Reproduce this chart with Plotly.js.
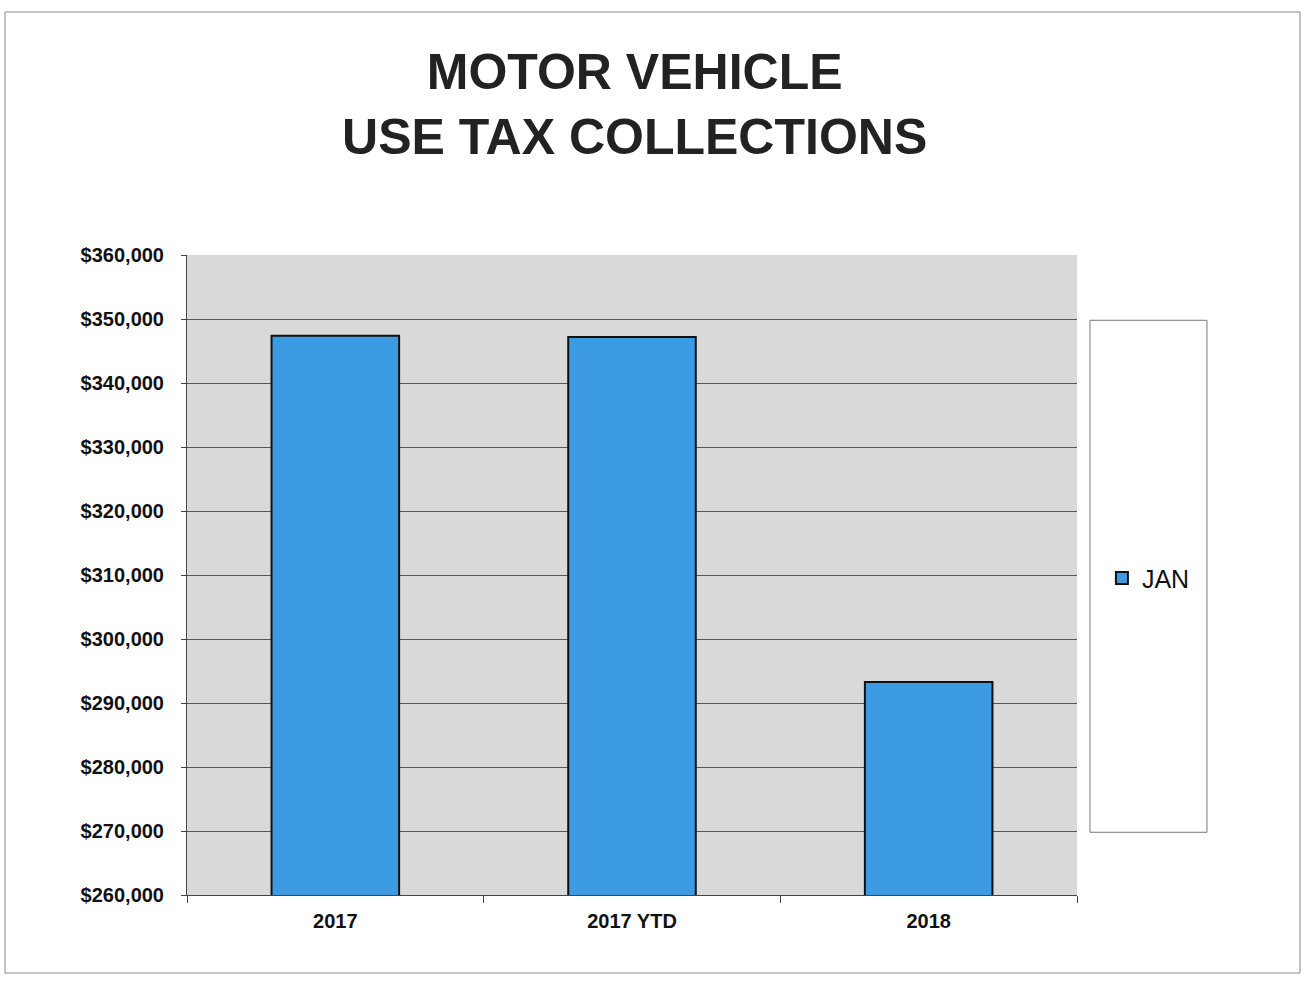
<!DOCTYPE html>
<html>
<head>
<meta charset="utf-8">
<script src="https://cdn.plot.ly/plotly-3.0.1.min.js"></script>
<style>html,body{margin:0;padding:0;background:#fff;}#chart{width:1309px;height:987px;}</style>
</head>
<body>
<div id="chart"></div>
<script>
const categories = ["2017", "2017 YTD", "2018"];
const janValues = [347400, 347200, 293300];
const seriesName = "JAN";
const titleText = "MOTOR VEHICLE<br>USE TAX COLLECTIONS";

const trace = {
  type: "bar",
  x: categories,
  y: janValues,
  name: seriesName,
  width: 0.43,
  marker: {color: "#3d9be3", line: {color: "#111", width: 2}},
  showlegend: true
};

const layout = {
  width: 1309, height: 987,
  margin: {l: 187, r: 232, t: 255, b: 92},
  paper_bgcolor: "#ffffff",
  plot_bgcolor: "#d9d9d9",
  font: {family: "Liberation Sans, Arial, sans-serif", color: "#111"},
  title: {
    text: titleText,
    font: {size: 50, family: "Liberation Sans, Arial, sans-serif", color: "#222", weight: "bold"},
    x: 0.503, xanchor: "center", xref: "paper",
    y: 0.91, yanchor: "middle", yref: "container"
  },
  showlegend: true,
  legend: {
    x: 1.028, xanchor: "left", y: 0.495, yanchor: "middle",
    bgcolor: "rgba(0,0,0,0)", borderwidth: 0,
    font: {size: 25, color: "#111"},
    itemwidth: 30
  },
  xaxis: {
    type: "category",
    showline: true, linecolor: "#444", linewidth: 1,
    ticks: "outside", tickson: "boundaries", ticklen: 7, tickcolor: "#444",
    tickfont: {size: 20, weight: "bold", color: "#111"},
    showgrid: false, zeroline: false,
    ticklabelstandoff: 8
  },
  yaxis: {
    range: [260000, 360000], dtick: 10000, tick0: 260000,
    tickprefix: "$", tickformat: ",",
    showline: true, linecolor: "#444", linewidth: 1,
    ticks: "outside", ticklen: 5, tickcolor: "#444",
    tickfont: {size: 20, weight: "bold", color: "#111"},
    gridcolor: "#555", gridwidth: 1, zeroline: false,
    ticklabelstandoff: 13
  },
  shapes: [
    {type: "rect", xref: "paper", yref: "paper", x0: 1.0146, x1: 1.146, y0: 0.098, y1: 0.898,
     line: {color: "#777", width: 1}, fillcolor: "#fff", layer: "below"},
    {type: "rect", xref: "paper", yref: "paper", x0: -0.2045, x1: 1.2506, y0: -0.1219, y1: 1.3797,
     line: {color: "#888", width: 1}, fillcolor: "rgba(0,0,0,0)", layer: "below"}
  ]
};

Plotly.newPlot("chart", [trace], layout, {displayModeBar: false, staticPlot: true});
</script>
</body>
</html>
